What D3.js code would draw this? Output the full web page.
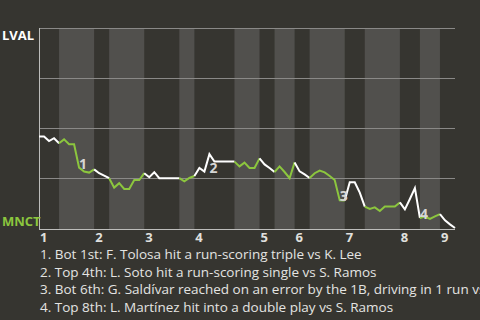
<!DOCTYPE html>
<html>
<head>
<meta charset="utf-8">
<script src="https://cdn.jsdelivr.net/npm/d3@7"></script>
<style>
body { margin: 0; background: #363530; }
svg { display: block; }
text { font-family: "Open Sans", "Noto Sans", sans-serif; }
</style>
</head>
<body>
<svg width="480" height="320"></svg>
<script>
// plate appearances per half inning (top 1, bot 1, top 2, ...)
var halfPAs = [4, 7, 3, 7, 7, 3, 8, 5, 3, 4, 3, 7, 4, 7, 4, 4, 3];
var innings = ["1", "2", "3", "4", "5", "6", "7", "8", "9"];
// LVAL win probability (%) after each plate appearance
var winProb = [45.7, 45.7, 43.5, 44.9, 42.4, 44.3, 41.9, 41.9, 30.2, 28.2,
  27.7, 29.3, 27.4, 26.2, 24.9, 20.2, 22.4, 19.5, 19.5, 24.0,
  24.0, 27.4, 25.4, 27.9, 24.9, 24.9, 24.9, 24.9, 24.9, 23.3,
  25.0, 26.0, 30.0, 28.2, 36.9, 33.2, 33.2, 33.2, 33.2, 33.2,
  30.8, 32.7, 30.0, 30.0, 34.8, 31.8, 30.0, 28.0, 30.8, 28.0,
  24.9, 32.8, 28.3, 26.8, 25.0, 27.4, 28.7, 27.8, 26.0, 24.0,
  13.8, 13.7, 22.9, 22.9, 17.7, 10.7, 9.5, 10.3, 8.5, 10.7,
  10.7, 10.7, 12.8, 9.3, 14.5, 19.9, 5.0, 5.7, 4.5, 5.8,
  6.9, 3.8, 1.8, 0];
var gridVals = [25, 50, 75, 100];
var eventIdx = [8, 34, 60, 76];
var eventText = [
  "1. Bot 1st: F. Tolosa hit a run-scoring triple vs K. Lee",
  "2. Top 4th: L. Soto hit a run-scoring single vs S. Ramos",
  "3. Bot 6th: G. Saldívar reached on an error by the 1B, driving in 1 run vs S. Ramos",
  "4. Top 8th: L. Martínez hit into a double play vs S. Ramos"
];
var teams = ["LVAL", "MNCT"];

var svg = d3.select("svg");
var green = "#8cc63e";

// cumulative boundaries
var bounds = [0];
halfPAs.forEach(function(n) { bounds.push(bounds[bounds.length - 1] + n); });
var total = bounds[bounds.length - 1];

var x = d3.scaleLinear().domain([0, total]).range([39, 455]);
var y = d3.scaleLinear().domain([0, 100]).range([228, 28]);

// shaded bottom halves
for (var h = 1; h < halfPAs.length; h += 2) {
  svg.append("rect")
    .attr("x", x(bounds[h])).attr("y", y(100))
    .attr("width", x(bounds[h + 1]) - x(bounds[h]))
    .attr("height", y(0) - y(100) + 1)
    .style("fill", "#51504d");
}

// grid lines
svg.selectAll(".grid").data(gridVals).enter().append("line")
  .attr("x1", x(0)).attr("x2", x(total))
  .attr("y1", function(d) { return y(d) + 0.5; })
  .attr("y2", function(d) { return y(d) + 0.5; })
  .style("stroke", "#8a8987").style("stroke-width", 1);

// axes lines
svg.append("line").attr("x1", x(0) + 0.5).attr("x2", x(0) + 0.5)
  .attr("y1", y(100)).attr("y2", y(0) + 2)
  .style("stroke", "#bdbdbb");
svg.append("line").attr("x1", x(0)).attr("x2", x(total))
  .attr("y1", y(0) + 1.5).attr("y2", y(0) + 1.5)
  .style("stroke", "#bdbdbb");

// win probability line, one path per half inning
var line = d3.line()
  .x(function(d) { return x(d); })
  .y(function(d) { return y(winProb[d]); });
for (var h = 0; h < halfPAs.length; h++) {
  svg.append("path")
    .datum(d3.range(bounds[h], bounds[h + 1] + 1))
    .attr("d", line)
    .style("fill", "none")
    .style("stroke", h % 2 ? green : "#ffffff")
    .style("stroke-width", 2);
}

// event markers
svg.selectAll(".ev").data(eventIdx).enter().append("text")
  .attr("x", function(d) { return x(d); })
  .attr("y", function(d) { return Math.max(y(winProb[d]), y(winProb[d - 1])) + 1; })
  .text(function(d, i) { return i + 1; })
  .style("font-size", "14px").style("font-weight", "bold")
  .style("fill", "#d6d6d4");

// inning labels
svg.selectAll(".inn").data(innings).enter().append("text")
  .attr("x", function(d, i) { return x(bounds[i * 2]) + 1; })
  .attr("y", 242)
  .text(function(d) { return d; })
  .style("font-size", "13px").style("font-weight", "bold")
  .style("fill", "#e0e0de");

// team labels
svg.append("text").attr("x", 2).attr("y", 40).text(teams[0])
  .style("font-size", "13px").style("font-weight", "bold")
  .style("fill", "#ffffff");
svg.append("text").attr("x", 2).attr("y", 226).text(teams[1])
  .style("font-size", "13px").style("font-weight", "bold")
  .style("fill", green);

// event descriptions
svg.selectAll(".desc").data(eventText).enter().append("text")
  .attr("x", 40)
  .attr("y", function(d, i) { return 259 + i * 17.5; })
  .text(function(d) { return d; })
  .style("font-size", "13.5px")
  .style("fill", "#e4e4e2");
</script>
</body>
</html>
